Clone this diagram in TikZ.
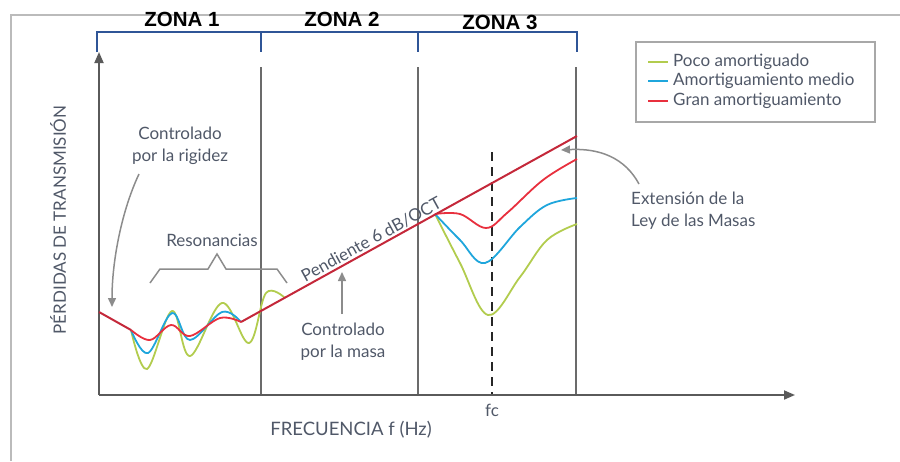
\documentclass[tikz,border=0pt]{standalone}
\usepackage{fontspec}
\setmainfont{Lato}
\newfontfamily\zonafont{Liberation Sans}
\usetikzlibrary{arrows.meta}
\definecolor{framegray}{HTML}{BBBBBB}
\definecolor{axisgray}{HTML}{5A5A5A}
\definecolor{zonablue}{HTML}{2F5597}
\definecolor{txtgray}{HTML}{505868}
\definecolor{annogray}{HTML}{8C8C8C}
\definecolor{cgreen}{HTML}{B2CC4E}
\definecolor{cblue}{HTML}{1FA6DC}
\definecolor{cred}{HTML}{E8303E}
\definecolor{cmain}{HTML}{C4283A}
\tikzset{
  frameline/.style={framegray, line width=1.8pt},
  axisline/.style={axisgray, line width=1.8pt},
  zoneline/.style={axisgray!90, line width=1.8pt},
  bracketline/.style={zonablue, line width=2pt},
  zonalabel/.style={font=\zonafont\bfseries\fontsize{20.5}{22}\selectfont, text=black, inner sep=0pt},
  anno/.style={font=\fontsize{17}{22}\selectfont, text=txtgray, align=center, inner sep=0pt},
  annoarrow/.style={annogray, line width=1.5pt, -{Triangle[length=9pt,width=8pt]}},
  curvegreen/.style={cgreen, line width=1.8pt},
  curveblue/.style={cblue, line width=1.8pt},
  curvered/.style={cred, line width=1.8pt},
  mainline/.style={cmain, line width=2pt},
}
\begin{document}
\begin{tikzpicture}[x=1pt,y=-1pt]
\useasboundingbox (0,0) rectangle (900,461);
% frame of the original scan
\draw[frameline] (11,461) -- (11,15) -- (900,15);

% zone brackets
\draw[bracketline] (97,52) -- (97,32) -- (577,32) -- (577,52);
\draw[bracketline] (261,32) -- (261,52);
\draw[bracketline] (418,32) -- (418,52);
\node[zonalabel] (z1) at (182,19) {ZONA 1};
\node[zonalabel] (z2) at (342,19) {ZONA 2};
\node[zonalabel] (z3) at (500,22) {ZONA 3};

% zone separators
\draw[zoneline] (261,67) -- (261,395);
\draw[zoneline] (418,67) -- (418,395);
\draw[zoneline] (576,67) -- (576,395);
% fc dashed
\draw[black!85, line width=1.6pt, dash pattern=on 9pt off 6pt] (492,152) -- (492,395);

% axes
\coordinate (O) at (99,395);
\coordinate (ytop) at (99,52);
\coordinate (xend) at (795,395);
\draw[axisline, -{Triangle[length=11pt,width=9pt]}] (O) -- (ytop);
\draw[axisline, -{Triangle[length=11pt,width=9pt]}] (O) -- (xend);

% zone 1 curves
\draw[curvegreen] plot[smooth, tension=0.6] coordinates {(131,330) (147,369) (172,311) (190,356) (222,303) (249,343) (266,293) (285,298)};
\draw[curveblue] plot[smooth, tension=0.6] coordinates {(131,330) (148,353) (172,313) (190,340) (222,312) (241,322)};
\draw[curvered] plot[smooth, tension=0.6] coordinates {(131,330) (150,340) (171,325) (190,336) (220,318) (241,322)};

% zone 3 curves
\draw[curvegreen] plot[smooth, tension=0.6] coordinates {(435,214) (460,263) (488,315) (520,277) (547,240) (577,224)};
\draw[curveblue] plot[smooth, tension=0.6] coordinates {(435,214) (460,240) (485,263) (520,227) (547,205) (577,198)};
\draw[curvered] plot[smooth, tension=0.6] coordinates {(435,214) (460,214) (486,228) (507,213) (543,180) (577,159)};

% main red line
\coordinate (m0) at (99,312);
\coordinate (m1) at (131,330);
\coordinate (m2) at (241,322);
\coordinate (m3) at (577,136);
\draw[mainline] (m0) -- (m1);
\draw[mainline] (m2) -- (m3);

% labels on axes
\node[anno, rotate=90] (ylab) at (58,220) {PÉRDIDAS DE TRANSMISIÓN};
\node[anno, font=\fontsize{18.5}{22}\selectfont] (xlab) at (351,430) {FRECUENCIA f (Hz)};
\node[anno] (fc) at (492,410) {fc};

% slope label
\node[anno, rotate=28.7, anchor=south, inner sep=3pt] (slope) at (376,248) {Pendiente 6 dB/OCT};

% annotations
\node[anno] (rig) at (180,146) {Controlado\\por la rigidez};
\coordinate (rigA) at (139,174);
\coordinate (rigB) at (112,307);
\draw[annoarrow] (rigA) .. controls (122,210) and (112,260) .. (rigB);

\node[anno] (res) at (212,240) {Resonancias};
\draw[annogray, line width=1.5pt] (150,283) -- (160,269) -- (208,269) -- (217,254) -- (226,269) -- (277,269) -- (287,283);

\node[anno] (masa) at (343,342) {Controlado\\por la masa};
\coordinate (masaA) at (342,314);
\coordinate (masaB) at (342,272);
\draw[annoarrow] (masaA) -- (masaB);

\node[anno, align=left, anchor=west] (ext) at (631,211) {Extensión de la\\Ley de las Masas};
\coordinate (extA) at (639,184);
\coordinate (extB) at (561,150);
\draw[annoarrow] (extA) .. controls (625,158) and (600,148) .. (extB);

% legend
\draw[framegray!90!black, line width=1.3pt] (636,42) rectangle (875,122);
\draw[curvegreen] (648,62) -- (668,62);
\draw[curveblue] (648,81) -- (668,81);
\draw[curvered] (648,101) -- (668,101);
\node[anno, anchor=west] (lg1) at (673,62) {Poco amortiguado};
\node[anno, anchor=west] (lg2) at (673,81) {Amortiguamiento medio};
\node[anno, anchor=west] (lg3) at (673,101) {Gran amortiguamiento};
\end{tikzpicture}
\end{document}
